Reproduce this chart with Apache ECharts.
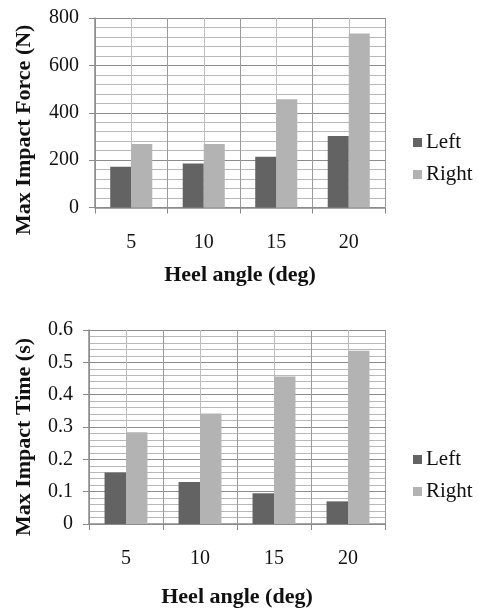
<!DOCTYPE html>
<html>
<head>
<meta charset="utf-8">
<script src="https://cdn.jsdelivr.net/npm/echarts@6/dist/echarts.min.js"></script>
<style>
html,body{margin:0;padding:0;background:#fff;}
#chart{width:478px;height:609px;}
</style>
</head>
<body>
<div id="chart"></div>
<script>
const categories = ['5', '10', '15', '20'];
const forceLeft = [172, 186, 214, 302];
const forceRight = [268, 268, 457, 735];
const timeLeft = [0.159, 0.130, 0.095, 0.070];
const timeRight = [0.284, 0.342, 0.456, 0.536];
const seriesNames = ['Left', 'Right'];
const xTitle = 'Heel angle (deg)';
const yTitleForce = 'Max Impact Force (N)';
const yTitleTime = 'Max Impact Time (s)';

const FONT = '"Liberation Serif", "Times New Roman", serif';
const leftColor = '#636363';
const rightColor = '#b3b3b3';

function catAxis(gi, margin, gap) {
  return {
    type: 'category', gridIndex: gi, data: categories,
    axisLine: {lineStyle: {color: '#8a8a8a', width: 1.5}},
    axisTick: {show: true, length: 6, lineStyle: {color: '#8a8a8a'}},
    axisLabel: {margin: margin, color: '#111', fontFamily: FONT, fontSize: 20},
    splitLine: {show: false},
    name: xTitle, nameLocation: 'middle', nameGap: gap,
    nameTextStyle: {fontFamily: FONT, fontSize: 22, fontWeight: 'bold', color: '#111'}
  };
}
function gridXAxis(gi) {
  return {
    type: 'value', gridIndex: gi, min: 0, max: categories.length, interval: 1,
    position: 'top',
    axisLine: {show: false}, axisTick: {show: false}, axisLabel: {show: false},
    splitLine: {show: true, lineStyle: {color: '#9a9a9a', width: 1}},
    minorTick: {show: false, splitNumber: 2},
    minorSplitLine: {show: true, lineStyle: {color: '#bdbdbd', width: 1}}
  };
}
function valAxis(gi, max, interval, fmt, title, gap, pad) {
  return {
    type: 'value', gridIndex: gi, min: 0, max: max, interval: interval,
    axisLine: {show: true, lineStyle: {color: '#8a8a8a', width: 1.5}},
    axisTick: {show: true, length: 6, lineStyle: {color: '#8a8a8a'}},
    axisLabel: {margin: 16, color: '#111', fontFamily: FONT, fontSize: 20, formatter: fmt},
    splitLine: {show: true, lineStyle: {color: '#8c8c8c', width: 1}},
    minorTick: {show: false, splitNumber: 5},
    minorSplitLine: {show: true, lineStyle: {color: '#b8b8b8', width: 1}},
    name: title, nameLocation: 'middle', nameGap: gap, nameRotate: 90,
    nameTextStyle: {fontFamily: FONT, fontSize: 22, fontWeight: 'bold', color: '#111', padding: pad}
  };
}
function barSeries(name, data, color, xi, yi) {
  return {
    type: 'bar', name: name, data: data, xAxisIndex: xi, yAxisIndex: yi,
    barGap: '0%', barCategoryGap: '42%',
    itemStyle: {color: color}, emphasis: {disabled: true}
  };
}
function legend(top) {
  return {
    data: seriesNames, orient: 'vertical', left: 408, top: top,
    icon: 'rect', itemWidth: 9, itemHeight: 9, itemGap: 11,
    textStyle: {fontFamily: FONT, fontSize: 21, color: '#111', lineHeight: 21, padding: [0, 0, 0, -1]},
    selectedMode: false
  };
}

const chart = echarts.init(document.getElementById('chart'), null, {renderer: 'canvas'});
chart.setOption({
  animation: false,
  backgroundColor: '#fff',
  grid: [
    {left: 95, top: 18, width: 290, height: 189.5},
    {left: 89, top: 330, width: 296, height: 195}
  ],
  legend: [legend(127), legend(444)],
  xAxis: [catAxis(0, 25, 57), catAxis(1, 25, 62), gridXAxis(0), gridXAxis(1)],
  yAxis: [
    valAxis(0, 800, 200, null, yTitleForce, 60, [0, 34, 0, 0]),
    valAxis(1, 0.6, 0.1, v => v === 0 ? '0' : v.toFixed(1), yTitleTime, 54, [0, 20, 0, 0])
  ],
  series: [
    barSeries(seriesNames[0], forceLeft, leftColor, 0, 0),
    barSeries(seriesNames[1], forceRight, rightColor, 0, 0),
    barSeries(seriesNames[0], timeLeft, leftColor, 1, 1),
    barSeries(seriesNames[1], timeRight, rightColor, 1, 1)
  ]
});
</script>
</body>
</html>
